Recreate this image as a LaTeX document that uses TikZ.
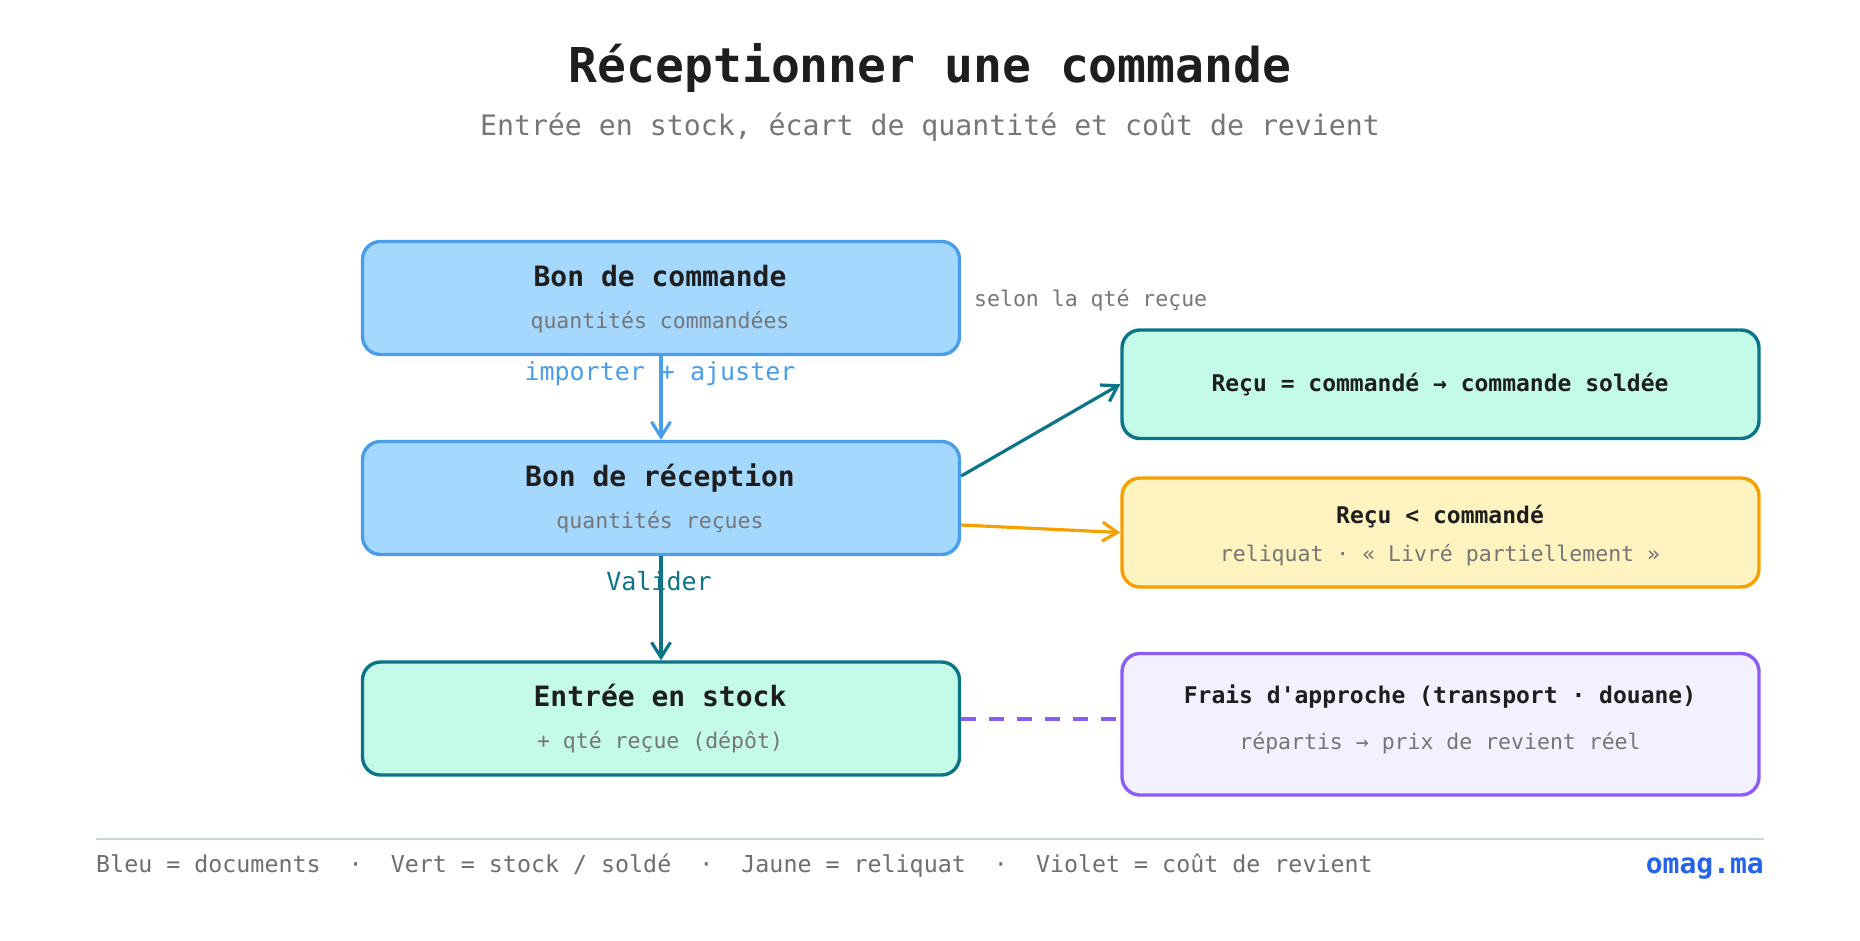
\documentclass[tikz,border=0pt]{standalone}
\usepackage{fontspec}
\setmainfont{DejaVu Sans Mono}[Ligatures=TeXOff]
\usetikzlibrary{arrows.meta,calc}
\definecolor{ink}{HTML}{1E1E1E}
\definecolor{mutedgray}{HTML}{767676}
\definecolor{footgray}{HTML}{6E6E6E}
\definecolor{bluefill}{HTML}{A5D8FF}
\definecolor{blueline}{HTML}{4A9DEB}
\definecolor{tealfill}{HTML}{C3FAE8}
\definecolor{tealline}{HTML}{0C7489}
\definecolor{yelfill}{HTML}{FFF3BF}
\definecolor{yelline}{HTML}{F59F00}
\definecolor{violfill}{HTML}{F3F0FF}
\definecolor{violline}{HTML}{8B5CF6}
\definecolor{rulegray}{HTML}{CBD5E1}
\definecolor{brandblue}{HTML}{2563EB}
\begin{document}
\begin{tikzpicture}[x=1pt,y=-1pt,
  boxbase/.style={draw, line width=3.4pt, rounded corners=18pt, inner sep=0pt},
  leftbox/.style={boxbase, minimum width=597pt, minimum height=113pt},
  rightbox/.style={boxbase, minimum width=637pt},
  bluebox/.style={leftbox, fill=bluefill, draw=blueline},
  tealbox/.style={fill=tealfill, draw=tealline},
  arr/.style={line width=3.2pt, -{Straight Barb[length=15pt,width=19pt]}},
  txt/.style={anchor=base, inner sep=0pt},
  titlef/.style={txt, text=ink, font=\bfseries\fontsize{48}{58}\selectfont},
  subf/.style={txt, text=mutedgray, font=\fontsize{28.2}{34}\selectfont},
  btitle/.style={txt, text=ink, font=\bfseries\fontsize{28}{34}\selectfont},
  bsub/.style={txt, text=mutedgray, font=\fontsize{21.5}{26}\selectfont},
  rtitle/.style={txt, text=ink, font=\bfseries\fontsize{23}{28}\selectfont},
  elabel/.style={txt, font=\fontsize{25}{30}\selectfont},
  footf/.style={txt, text=footgray, font=\fontsize{23.3}{28}\selectfont}
]
\useasboundingbox (0,0) rectangle (1860,940);

% title
\node[titlef] (title) at (930,82) {Réceptionner une commande};
\node[subf] (subtitle) at (930,135) {Entrée en stock, écart de quantité et coût de revient};

% boxes
\node[bluebox] (bc) at (661,298) {};
\node[bluebox] (br) at (661,498) {};
\node[leftbox, tealbox] (es) at (661,718.5) {};
\node[rightbox, tealbox, minimum height=108.5pt] (ok) at (1440.5,384.25) {};
\node[rightbox, fill=yelfill, draw=yelline, minimum height=109pt] (part) at (1440.5,532.5) {};
\node[rightbox, fill=violfill, draw=violline, minimum height=141.5pt] (frais) at (1440.5,724.25) {};

% connectors
\draw[arr, blueline] (bc.south) -- (br.north);
\draw[arr, tealline] (br.south) -- (es.north);
\draw[arr, tealline] ($(br.east)+(0,-22)$) -- (ok.west);
\draw[arr, yelline] ($(br.east)+(0,27)$) -- (part.west);
\draw[violline, line width=4pt, dash pattern=on 15pt off 13pt] (es.east) -- (frais.west |- es.east);

% box texts
\node[btitle] (bcT) at (660,286) {Bon de commande};
\node[bsub] (bcS) at (660,328) {quantités commandées};
\node[btitle] (brT) at (660,486) {Bon de réception};
\node[bsub] (brS) at (660,528) {quantités reçues};
\node[btitle] (esT) at (660,706) {Entrée en stock};
\node[bsub] (esS) at (660,748) {+ qté reçue (dépôt)};

\node[rtitle] (okT) at (1440,391) {Reçu = commandé → commande soldée};
\node[rtitle] (partT) at (1440,523) {Reçu < commandé};
\node[bsub] (partS) at (1440,561) {reliquat · « Livré partiellement »};
\node[rtitle] (fraisT) at (1440,703) {Frais d'approche (transport · douane)};
\node[bsub] (fraisS) at (1440,749) {répartis → prix de revient réel};

% connector labels
\node[elabel, text=blueline] (lab1) at (660,380) {importer + ajuster};
\node[elabel, text=tealline] (lab2) at (659,590) {Valider};
\node[bsub, anchor=base west] (note) at (974,306) {selon la qté reçue};

% footer
\draw[rulegray, line width=2pt] (96,839) coordinate (fl) -- (1764,839) coordinate (fr);
\node[footf, anchor=base west] (legend) at (96,872) {Bleu = documents \ · \ Vert = stock / soldé \ · \ Jaune = reliquat \ · \ Violet = coût de revient};
\node[txt, anchor=base east, text=brandblue, font=\bfseries\fontsize{28}{34}\selectfont] (brand) at (1764,873) {omag.ma};
\end{tikzpicture}
\end{document}
